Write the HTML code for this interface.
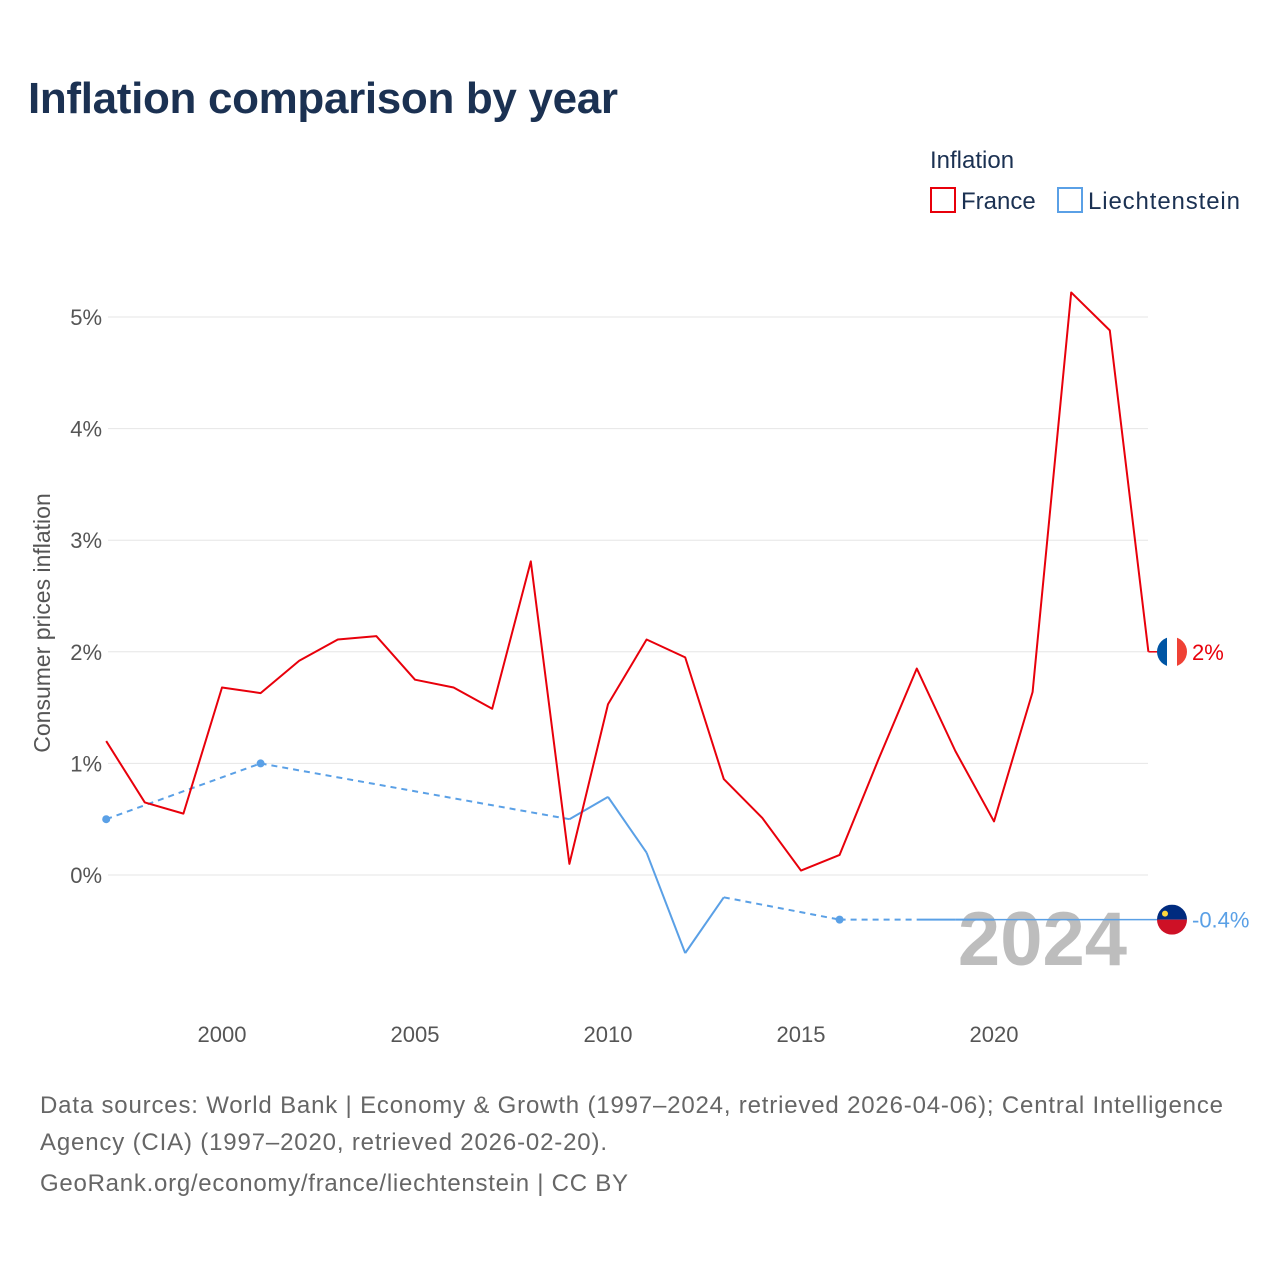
<!DOCTYPE html>
<html><head><meta charset="utf-8">
<style>
body{margin:0;background:#fff;font-family:"Liberation Sans",sans-serif;}
svg{display:block}
</style></head>
<body>
<svg id="chart" width="1280" height="1280" xmlns="http://www.w3.org/2000/svg">
<text x="28" y="113" font-size="44" font-weight="bold" fill="#1b3152" textLength="590">Inflation comparison by year</text>
<text x="930" y="168" font-size="24" fill="#1b3152">Inflation</text>
<g>
<rect x="931" y="188" width="24" height="24" fill="none" stroke="#e8000b" stroke-width="2"/>
<text x="961" y="209" font-size="24" fill="#1b3152">France</text></g>
<g>
<rect x="1058" y="188" width="24" height="24" fill="none" stroke="#5aa0e6" stroke-width="2"/>
<text x="1088" y="209" font-size="24" fill="#1b3152" textLength="152">Liechtenstein</text></g>
<text transform="translate(50,623) rotate(-90)" text-anchor="middle" font-size="23" fill="#555">Consumer prices inflation</text>
<g id="grid"></g>
<text x="1127" y="965" text-anchor="end" font-size="76" font-weight="bold" fill="#bdbdbd">2024</text>
<g id="series"></g>
<g font-size="24" fill="#666">
<text x="40" y="1113" textLength="1183">Data sources: World Bank | Economy &amp; Growth (1997–2024, retrieved 2026-04-06); Central Intelligence</text>
<text x="40" y="1150" textLength="567">Agency (CIA) (1997–2020, retrieved 2026-02-20).</text>
<text x="40" y="1191" textLength="588">GeoRank.org/economy/france/liechtenstein | CC BY</text>
</g>
</svg>
<script>
const yTicks=[0,1,2,3,4,5];
const xTicks=[2000,2005,2010,2015,2020];
const franceYears=[1997,1998,1999,2000,2001,2002,2003,2004,2005,2006,2007,2008,2009,2010,2011,2012,2013,2014,2015,2016,2017,2018,2019,2020,2021,2022,2023,2024];
const franceValues=[1.20,0.65,0.55,1.68,1.63,1.92,2.11,2.14,1.75,1.68,1.49,2.81,0.10,1.53,2.11,1.95,0.86,0.51,0.04,0.18,1.03,1.85,1.11,0.48,1.64,5.22,4.88,2.0];
const liYears=[1997,2001,2009,2010,2011,2012,2013,2016,2018,2019,2020];
const liValues=[0.5,1.0,0.5,0.7,0.2,-0.7,-0.2,-0.4,-0.4,-0.4,-0.4];
const liLast=-0.4, frLast=2.0;
const NS="http://www.w3.org/2000/svg";
const X=y=>222+(y-2000)*38.6;
const Y=v=>875-v*111.6;
function mk(tag,attrs,parent){const e=document.createElementNS(NS,tag);for(const k in attrs)e.setAttribute(k,attrs[k]);parent.appendChild(e);return e;}
const grid=document.getElementById('grid');
yTicks.forEach(t=>{
 const l=mk('line',{x1:108,x2:1148,y1:Y(t),y2:Y(t),stroke:'#e6e6e6','stroke-width':1},grid);
 
 
 const tx=mk('text',{x:102,y:Y(t)+8,'text-anchor':'end','font-size':22,fill:'#555'},grid);
 tx.textContent=t+'%';
 
 
});
xTicks.forEach(t=>{
 const tx=mk('text',{x:X(t),y:1042,'text-anchor':'middle','font-size':22,fill:'#555'},grid);
 tx.textContent=t;
 
 
});
const s=document.getElementById('series');
for(let i=0;i<liYears.length-1;i++){
 const gap=liYears[i+1]-liYears[i]>1;
 const l=mk('line',{x1:X(liYears[i]),y1:Y(liValues[i]),x2:X(liYears[i+1]),y2:Y(liValues[i+1]),stroke:'#5aa0e6','stroke-width':2},s);
 if(gap)l.setAttribute('stroke-dasharray','6,5');
 
 
}
liYears.forEach((y,i)=>{
 const prev=i>0?liYears[i]-liYears[i-1]:2, next=i<liYears.length-1?liYears[i+1]-liYears[i]:2;
 if(prev>1&&next>1){const c=mk('circle',{cx:X(y),cy:Y(liValues[i]),r:4,fill:'#5aa0e6'},s);
 
 }
});
const ext=mk('line',{x1:X(liYears[liYears.length-1]),y1:Y(liLast),x2:1160,y2:Y(liLast),stroke:'#5aa0e6','stroke-width':1.5},s);


const fp=mk('polyline',{points:franceYears.map((y,i)=>X(y)+','+Y(franceValues[i])).join(' '),fill:'none',stroke:'#e8000b','stroke-width':2,'stroke-linejoin':'round'},s);


const fe=mk('line',{x1:X(2024),y1:Y(frLast),x2:1160,y2:Y(frLast),stroke:'#e8000b','stroke-width':1.5},s);


const fy=Y(frLast);
const ff=mk('g',{},s);


mk('defs',{},ff).innerHTML='<clipPath id="cf"><circle cx="1172" cy="'+fy+'" r="15"/></clipPath><clipPath id="cl"><circle cx="1172" cy="'+Y(liLast)+'" r="15"/></clipPath>';
const fg=mk('g',{'clip-path':'url(#cf)'},ff);
mk('rect',{x:1157,y:fy-15,width:10,height:30,fill:'#0055a4'},fg);
mk('rect',{x:1167,y:fy-15,width:10,height:30,fill:'#fff'},fg);
mk('rect',{x:1177,y:fy-15,width:10,height:30,fill:'#ef4135'},fg);
const ft=mk('text',{x:1192,y:fy+8,'font-size':22,fill:'#e8000b'},s);
ft.textContent=frLast+'%';


const ly=Y(liLast);
const lf=mk('g',{'clip-path':'url(#cl)'},s);


mk('rect',{x:1157,y:ly-15,width:30,height:15,fill:'#002b7f'},lf);
mk('rect',{x:1157,y:ly,width:30,height:15,fill:'#ce1126'},lf);
mk('circle',{cx:1165,cy:ly-6,r:3,fill:'#ffd83d'},lf);
const lt=mk('text',{x:1192,y:ly+8,'font-size':22,fill:'#5aa0e6'},s);
lt.textContent=liLast+'%';


</script>
</body></html>
